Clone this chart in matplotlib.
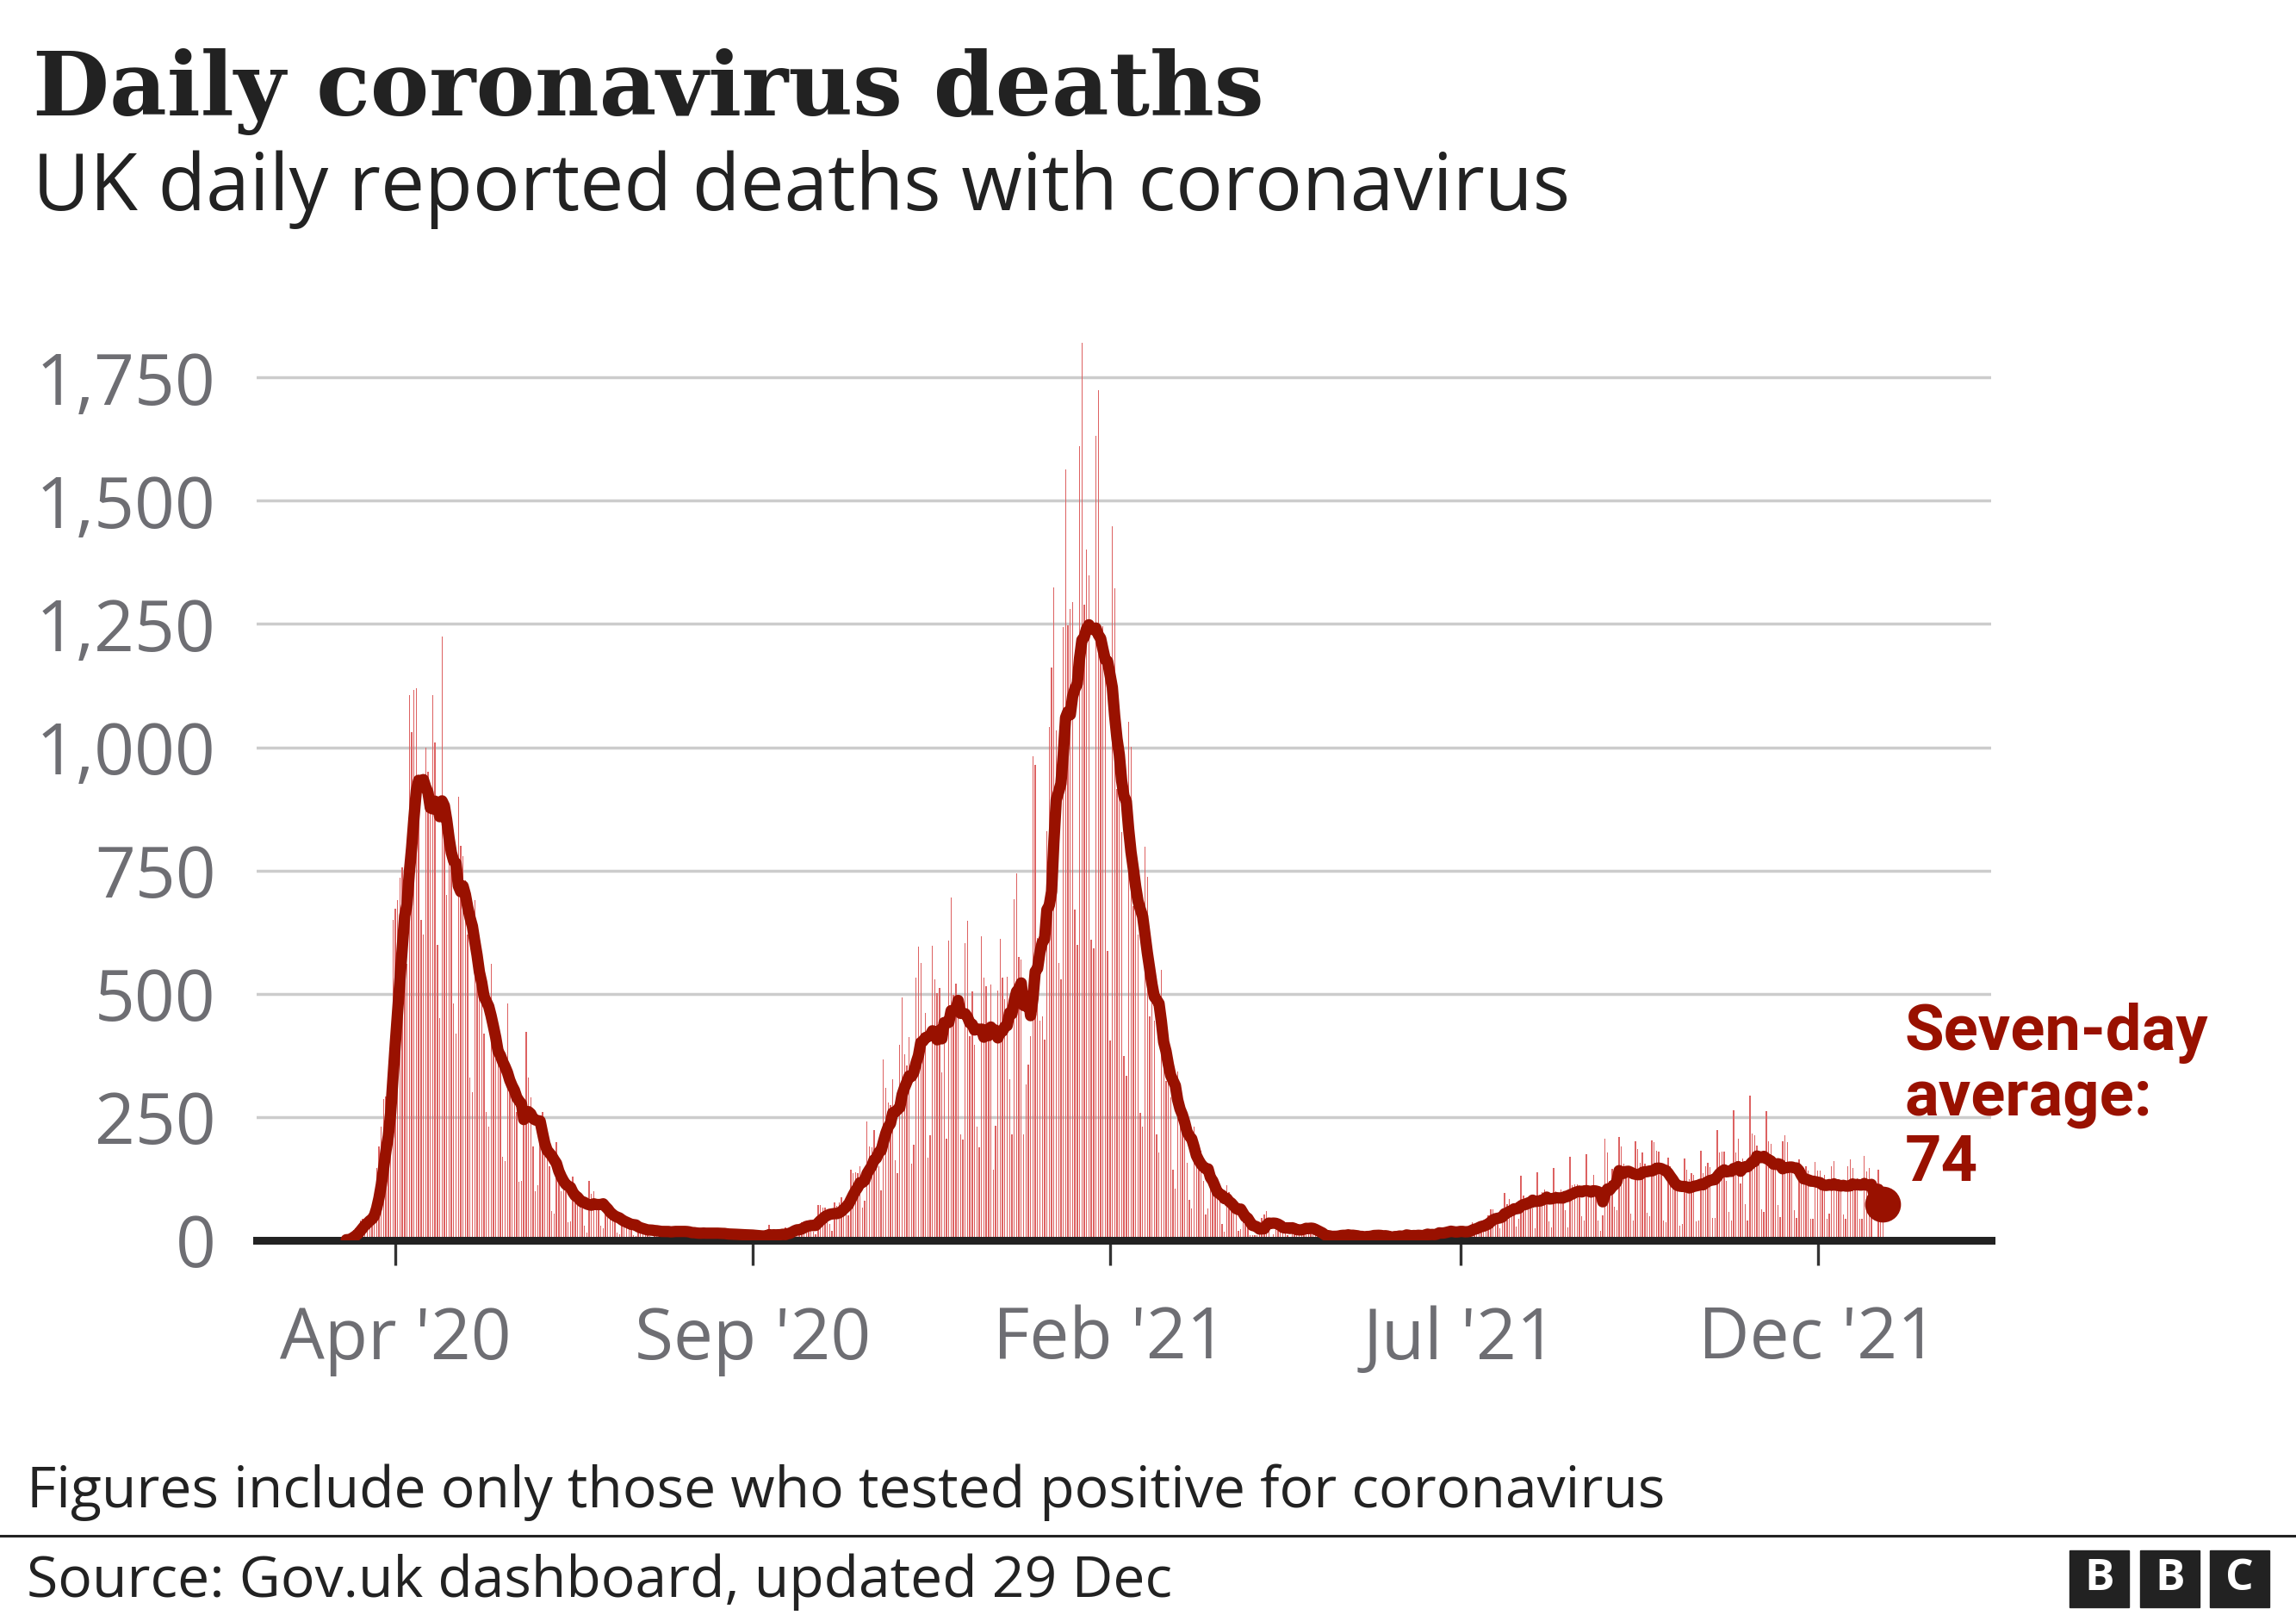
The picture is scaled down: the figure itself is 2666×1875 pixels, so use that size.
import pandas as pd
import matplotlib
matplotlib.use('Agg')
import matplotlib.pyplot as plt
from matplotlib.lines import Line2D
from matplotlib.patches import Rectangle

plt.rcParams['font.family'] = ['Open Sans', 'DejaVu Sans']

# UK daily reported deaths (within 28 days of a positive test), one list per month
mar20 = [1, 1, 0, 1, 2, 1, 2, 3, 11, 21, 24, 30, 40, 44, 43, 40, 55, 50, 75, 147,
         190, 230, 287, 292, 260, 400, 650]  # from 5 March
apr20 = [673, 690, 735, 757, 700, 560, 1105, 1030, 1116, 1120, 900, 650, 620, 1000, 950,
         900, 1105, 1010, 600, 450, 1224, 880, 700, 850, 800, 480, 420, 900, 800, 780]
may20 = [730, 620, 330, 300, 690, 600, 540, 580, 420, 260, 230, 560, 450, 380, 384, 360,
         170, 160, 480, 340, 300, 320, 260, 118, 121, 256, 422, 330, 290, 190, 100]
jun20 = [111, 250, 260, 176, 192, 150, 60, 55, 200, 150, 100, 130, 100, 36, 38, 130, 100,
         80, 90, 70, 30, 15, 120, 94, 99, 80, 70, 30, 25, 80]
jul20 = [60, 55, 50, 45, 15, 12, 55, 40, 40, 35, 30, 10, 8, 30, 25, 30, 25, 20, 8, 6, 25,
         22, 25, 20, 20, 8, 5, 20, 25, 28, 20]
aug20 = [20, 8, 5, 18, 20, 18, 20, 15, 5, 5, 20, 18, 18, 20, 15, 6, 4, 18, 17, 17, 15, 12,
         5, 3, 16, 15, 14, 13, 12, 4, 3]
sep20 = [13, 12, 12, 10, 8, 3, 3, 32, 8, 14, 9, 9, 5, 9, 27, 20, 21, 27, 27, 18, 11, 37,
         37, 40, 34, 34, 17, 13, 71, 71]
oct20 = [66, 66, 49, 33, 19, 76, 70, 77, 87, 81, 65, 50, 143, 137, 138, 136, 150, 67, 80,
         241, 191, 189, 224, 174, 151, 102, 367, 310, 280, 274, 326]
nov20 = [162, 136, 397, 492, 378, 355, 413, 156, 194, 532, 595, 563, 376, 462, 168, 213,
         598, 529, 501, 511, 341, 398, 206, 608, 696, 498, 521, 479, 215, 205]
dec20 = [603, 648, 414, 504, 397, 231, 189, 616, 533, 516, 424, 519, 144, 232, 506, 612,
         532, 489, 534, 326, 215, 691, 744, 574, 570, 215, 316, 357, 414, 981, 964]
jan21 = [613, 445, 454, 407, 830, 1041, 1162, 1325, 1035, 563, 529, 1243, 1564, 1248, 1280,
         1295, 671, 599, 1610, 1820, 1290, 1401, 1348, 610, 592, 1631, 1725, 1239, 1245,
         1200, 587]
feb21 = [406, 1449, 1322, 915, 1014, 828, 373, 333, 1052, 1001, 678, 758, 621, 258, 230,
         799, 738, 454, 533, 445, 215, 178, 548, 442, 323, 345, 290, 144]
mar21 = [104, 343, 315, 242, 236, 158, 82, 65, 231, 190, 175, 181, 121, 52, 64, 110, 141,
         95, 101, 96, 33, 17, 112, 98, 70, 63, 58, 19, 23, 56, 43]
apr21 = [51, 10, 10, 10, 10, 26, 45, 53, 60, 40, 7, 13, 23, 33, 34, 32, 32, 10, 4, 33, 22,
         18, 29, 32, 19, 17, 29, 29, 14, 15]
may21 = [15, 1, 1, 4, 14, 13, 8, 15, 2, 5, 11, 17, 11, 17, 7, 4, 1, 7, 9, 10, 12, 11, 5, 6,
         15, 10, 12, 10, 6, 6, 1]
jun21 = [0, 12, 18, 11, 13, 4, 5, 13, 7, 9, 17, 12, 8, 3, 9, 19, 19, 11, 14, 6, 10, 27, 16,
         21, 18, 23, 14, 4, 22, 18]
jul21 = [27, 18, 18, 15, 9, 37, 33, 35, 34, 34, 19, 26, 50, 63, 63, 51, 41, 25, 39, 96, 73,
         84, 64, 65, 28, 44, 131, 91, 86, 85, 68]
aug21 = [65, 24, 138, 92, 97, 103, 94, 39, 26, 146, 100, 94, 103, 93, 61, 26, 170, 111, 113,
         114, 104, 49, 40, 174, 104, 100, 133, 100, 40, 20, 50]
sep21 = [207, 178, 121, 145, 68, 61, 209, 191, 156, 147, 148, 54, 41, 201, 185, 158, 178,
         156, 56, 49, 203, 199, 182, 180, 150, 40, 37, 167, 150, 137]
oct21 = [127, 121, 30, 33, 166, 143, 124, 137, 133, 38, 40, 181, 136, 150, 157, 148, 45, 45,
         223, 179, 180, 180, 120, 57, 40, 263, 179, 207, 115, 166, 74]
nov21 = [40, 293, 217, 214, 193, 155, 63, 57, 262, 201, 195, 150, 150, 72, 47, 201, 214,
         199, 157, 150, 61, 45, 165, 149, 147, 150, 141, 44, 43, 159]
dec21 = [141, 141, 121, 132, 43, 54, 150, 161, 120, 124, 119, 52, 44, 150, 165, 146, 111,
         125, 44, 44, 172, 140, 147, 122, 0, 0, 143, 48, 57]  # to 29 December

first_day = '2020-03-05'
tick_dates = ['2020-04-01', '2020-09-01', '2021-02-01', '2021-07-01', '2021-12-01']
tick_labels = ["Apr '20", "Sep '20", "Feb '21", "Jul '21", "Dec '21"]
y_ticks = [0, 250, 500, 750, 1000, 1250, 1500, 1750]

RED = '#991100'
BAR = '#dd6262'
DARK = '#222222'
GREY = '#6e6e73'

W, H = 2666, 1875


def fx(px):
    return px / W


def fy(py):
    return 1 - py / H


daily = (mar20 + apr20 + may20 + jun20 + jul20 + aug20 + sep20 + oct20 + nov20 + dec20
         + jan21 + feb21 + mar21 + apr21 + may21 + jun21 + jul21 + aug21 + sep21 + oct21
         + nov21 + dec21)
deaths = pd.Series(daily, index=pd.date_range(first_day, periods=len(daily), freq='D'))
avg = deaths.rolling(7).mean()

fig = plt.figure(figsize=(W / 100, H / 100), dpi=100)
ax = fig.add_axes([fx(298), fy(1440), fx(2312) - fx(298), 1087.6 / H])

ax.bar(deaths.index, deaths.values, width=0.5, color=BAR, linewidth=0, zorder=2)
ax.plot(avg.index, avg.values, color=RED, lw=9.5, solid_capstyle='round',
        solid_joinstyle='round', zorder=4)
ax.plot(avg.index[-1], avg.values[-1], 'o', ms=29, color=RED, zorder=5)

ax.set_ylim(0, 1900)
ax.set_xlim(pd.Timestamp('2020-02-01 15:00'), pd.Timestamp('2022-02-13 07:00'))

ax.set_yticks(y_ticks)
ax.set_yticklabels([f'{v:,}' for v in y_ticks])
ax.set_xticks(pd.to_datetime(tick_dates))
ax.set_xticklabels(tick_labels)
ax.grid(axis='y', color='#cccccc', lw=2.5)
ax.set_axisbelow(True)

for s in ['top', 'right', 'left']:
    ax.spines[s].set_visible(False)
ax.spines['bottom'].set_linewidth(6.5)
ax.spines['bottom'].set_color(DARK)
ax.spines['bottom'].set_zorder(3)

ax.tick_params(axis='y', length=0, pad=34, labelsize=59, labelcolor=GREY)
ax.tick_params(axis='x', length=21, width=2.4, color='#333333', pad=33,
               labelsize=59, labelcolor=GREY)

# annotation for the latest average
for i, line in enumerate(['Seven-day', 'average:', f'{avg.values[-1]:.0f}']):
    fig.text(fx(2212), fy(1219 + 76 * i), line, color=RED, fontsize=53.5,
             family=['Roboto', 'DejaVu Sans'], weight='bold', va='baseline')

# titles
fig.text(fx(38), fy(134), 'Daily coronavirus deaths', fontsize=74,
         family=['DejaVu Serif'], weight='bold', color=DARK, va='baseline')
fig.text(fx(38), fy(244), 'UK daily reported deaths with coronavirus', fontsize=65.5,
         color=DARK, va='baseline')

# footer
fig.text(fx(31), fy(1750), 'Figures include only those who tested positive for coronavirus',
         fontsize=47.6, color=DARK, va='baseline')
fig.add_artist(Line2D([0, 1], [fy(1783), fy(1783)], color=DARK, lw=2.2))
fig.text(fx(31), fy(1854), 'Source: Gov.uk dashboard, updated 29 Dec',
         fontsize=47.6, color=DARK, va='baseline')

for x0, letter in zip([2403, 2485, 2566], 'BBC'):
    fig.add_artist(Rectangle((fx(x0), fy(1866)), 69 / W, 66 / H, color=DARK,
                             transform=fig.transFigure))
    fig.text(fx(x0 + 34.5), fy(1833), letter, color='white', fontsize=37,
             weight='bold', ha='center', va='center')

fig.savefig('out.png', dpi=100)
